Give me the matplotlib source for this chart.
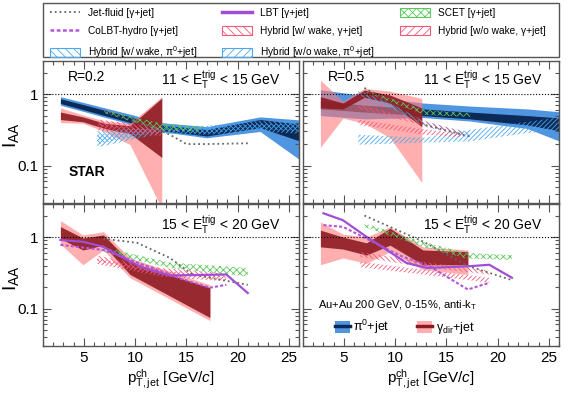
import matplotlib
matplotlib.use('Agg')
import matplotlib.pyplot as plt
from matplotlib.patches import Patch, Rectangle
from matplotlib.lines import Line2D
from matplotlib.ticker import MultipleLocator, FixedLocator, FixedFormatter, LogLocator, NullFormatter

plt.rcParams['font.family'] = ['Liberation Sans', 'DejaVu Sans']
plt.rcParams['mathtext.fontset'] = 'custom'
plt.rcParams['mathtext.rm'] = 'Liberation Sans'
plt.rcParams['mathtext.it'] = 'Liberation Sans:italic'
plt.rcParams['mathtext.bf'] = 'Liberation Sans:bold'
plt.rcParams['mathtext.default'] = 'regular'
plt.rcParams['hatch.linewidth'] = 0.6

# colours
BLUE_L = '#4f95e0'
BLUE_D = '#0b2a58'
RED_L = '#ff7a7a'
RED_D = '#8c1a22'
C_JETFLUID = '#666666'
C_LBT = '#a04fd4'
C_COLBT = '#b455dc'
C_SCET = '#5cc85c'
C_HYB_G = '#f0587a'
C_HYB_PI = '#4aa8f0'
HATCH_W = '\\\\\\\\\\\\\\'
HATCH_WO = '///////'
HATCH_X = 'xxxxx'

# ---------------- data ----------------
# top-left: R=0.2, 11 < ET < 15 GeV
pi_x_tl = [2.7, 9.8, 12.4, 17.0, 22.2, 26.1]
pi_sys_lo_tl = [0.70, 0.37, 0.30, 0.245, 0.30, 0.12]
pi_sys_hi_tl = [0.92, 0.51, 0.40, 0.35, 0.48, 0.435]
pi_stat_lo_tl = [0.74, 0.39, 0.31, 0.26, 0.34, 0.22]
pi_stat_hi_tl = [0.86, 0.47, 0.37, 0.32, 0.44, 0.38]
g_x_tl = [2.7, 4.9, 7.0, 9.5, 12.6]
g_sys_lo_tl = [0.40, 0.39, 0.30, 0.196, 0.025]
g_sys_hi_tl = [0.64, 0.51, 0.42, 0.39, 0.92]
g_stat_lo_tl = [0.44, 0.41, 0.33, 0.28, 0.13]
g_stat_hi_tl = [0.56, 0.48, 0.39, 0.36, 0.88]
jf_x_tl = [7.0, 10.2, 13.4, 15.0, 17.0, 21.0]
jf_y_tl = [0.58, 0.42, 0.27, 0.20, 0.20, 0.205]
scet_x_tl = [7.0, 12.5, 16.5]
scet_lo_tl = [0.54, 0.31, 0.30]
scet_hi_tl = [0.60, 0.39, 0.35]
hwpi_x_tl = [6.3, 12.5, 17.0, 22.0, 26.0]
hwpi_lo_tl = [0.20, 0.30, 0.28, 0.33, 0.30]
hwpi_hi_tl = [0.30, 0.36, 0.36, 0.42, 0.40]
hwopi_x_tl = [6.3, 12.5, 17.0, 22.0, 26.0]
hwopi_lo_tl = [0.18, 0.28, 0.27, 0.30, 0.28]
hwopi_hi_tl = [0.27, 0.34, 0.34, 0.38, 0.38]
hwg_x_tl = [6.4, 9.5, 12.5]
hwg_lo_tl = [0.36, 0.32, 0.29]
hwg_hi_tl = [0.44, 0.39, 0.34]
hwog_x_tl = [6.4, 9.5, 12.5]
hwog_lo_tl = [0.31, 0.28, 0.26]
hwog_hi_tl = [0.38, 0.34, 0.31]

# top-right: R=0.5, 11 < ET < 15 GeV
pi_x_tr = [2.7, 7.0, 12.7, 17.3, 22.9, 26.4]
pi_sys_lo_tr = [0.50, 0.45, 0.47, 0.42, 0.33, 0.21]
pi_sys_hi_tr = [1.15, 0.95, 0.75, 0.68, 0.62, 0.56]
pi_stat_lo_tr = [0.62, 0.56, 0.50, 0.45, 0.37, 0.30]
pi_stat_hi_tr = [0.80, 0.70, 0.62, 0.56, 0.50, 0.46]
g_x_tr = [2.7, 4.9, 7.0, 9.5, 12.6]
g_sys_lo_tr = [0.18, 0.46, 0.39, 0.245, 0.058]
g_sys_hi_tr = [1.56, 0.80, 1.20, 1.10, 0.87]
g_stat_lo_tr = [0.64, 0.62, 0.90, 0.75, 0.35]
g_stat_hi_tr = [0.92, 0.75, 1.14, 0.97, 0.64]
jf_x_tr = [7.0, 12.9, 17.3]
jf_y_tr = [1.22, 0.37, 0.255]
scet_x_tr = [7.2, 12.9, 17.3]
scet_lo_tr = [1.05, 0.51, 0.48]
scet_hi_tr = [1.13, 0.60, 0.54]
hwpi_x_tr = [6.4, 10.2, 12.9, 17.3]
hwpi_lo_tr = [0.97, 0.57, 0.35, 0.245]
hwpi_hi_tr = [1.13, 0.67, 0.41, 0.29]
hwopi_x_tr = [6.4, 12.9, 17.3, 22.9, 26.4]
hwopi_lo_tr = [0.196, 0.21, 0.218, 0.285, 0.316]
hwopi_hi_tr = [0.27, 0.245, 0.316, 0.41, 0.48]
hwg_x_tr = [6.4, 10.2, 12.9, 16.5]
hwg_lo_tr = [0.62, 0.45, 0.36, 0.27]
hwg_hi_tr = [0.72, 0.52, 0.42, 0.30]
hwog_x_tr = [6.4, 12.9, 16.5]
hwog_lo_tr = [0.37, 0.27, 0.25]
hwog_hi_tr = [0.44, 0.32, 0.28]

# bottom-left: R=0.2, 15 < ET < 20 GeV
g_x_bl = [2.7, 4.9, 6.9, 9.5, 17.3]
g_sys_lo_bl = [0.80, 0.41, 0.66, 0.27, 0.068]
g_sys_hi_bl = [1.70, 1.07, 1.19, 0.51, 0.215]
g_stat_lo_bl = [0.95, 0.66, 0.77, 0.30, 0.075]
g_stat_hi_bl = [1.40, 0.97, 1.07, 0.45, 0.196]
lbt_x_bl = [2.7, 4.9, 6.9, 9.2, 10.8, 13.4, 18.9, 21.0]
lbt_y_bl = [0.91, 0.86, 0.73, 0.48, 0.37, 0.29, 0.30, 0.165]
colbt_x_bl = [2.7, 6.9, 9.2, 14.5, 17.3, 18.9]
colbt_y_bl = [0.78, 0.66, 0.50, 0.26, 0.196, 0.215]
jf_x_bl = [6.9, 10.2, 13.4, 15.6, 21.0]
jf_y_bl = [0.95, 0.83, 0.51, 0.30, 0.215]
scet_x_bl = [6.9, 10.2, 13.4, 21.0]
scet_lo_bl = [0.62, 0.47, 0.37, 0.28]
scet_hi_bl = [0.72, 0.56, 0.44, 0.37]
hwg_x_bl = [6.3, 12.6, 18.9]
hwg_lo_bl = [0.46, 0.30, 0.27]
hwg_hi_bl = [0.55, 0.37, 0.31]
hwog_x_bl = [6.3, 12.6, 18.9]
hwog_lo_bl = [0.42, 0.28, 0.24]
hwog_hi_bl = [0.50, 0.34, 0.28]

# bottom-right: R=0.5, 15 < ET < 20 GeV
g_x_br = [2.7, 4.9, 7.2, 9.5, 12.7, 17.1]
g_sys_lo_br = [0.41, 0.51, 0.43, 0.625, 0.35, 0.30]
g_sys_hi_br = [1.63, 1.10, 1.00, 1.39, 0.73, 0.66]
g_stat_lo_br = [0.73, 0.68, 0.56, 0.77, 0.41, 0.41]
g_stat_hi_br = [1.25, 1.00, 0.83, 1.33, 0.66, 0.625]
lbt_x_br = [3.0, 4.9, 7.2, 11.1, 13.1, 17.1, 19.2, 21.4]
lbt_y_br = [2.15, 1.72, 1.01, 0.435, 0.37, 0.39, 0.41, 0.27]
colbt_x_br = [3.0, 4.9, 7.2, 10.5, 13.5, 17.1, 19.2]
colbt_y_br = [1.47, 1.39, 0.95, 0.55, 0.38, 0.185, 0.23]
jf_x_br = [7.0, 12.7, 17.0, 21.4]
jf_y_br = [2.0, 0.87, 0.40, 0.25]
scet_x_br = [7.0, 12.7, 17.0, 21.4]
scet_lo_br = [1.38, 0.73, 0.50, 0.48]
scet_hi_br = [1.56, 0.86, 0.60, 0.56]
hwg_x_br = [6.6, 12.7, 19.2]
hwg_lo_br = [0.53, 0.38, 0.30]
hwg_hi_br = [0.62, 0.45, 0.34]
hwog_x_br = [6.6, 12.7, 19.2]
hwog_lo_br = [0.38, 0.30, 0.23]
hwog_hi_br = [0.45, 0.35, 0.27]

W, H = 581, 393
fig = plt.figure(figsize=(W / 100, H / 100), dpi=100)


def box(x0, y0, x1, y1):
    return [x0 / W, 1 - y1 / H, (x1 - x0) / W, (y1 - y0) / H]


ax_tl = fig.add_axes(box(43, 61, 299, 203))
ax_tr = fig.add_axes(box(303, 61, 559, 203))
ax_bl = fig.add_axes(box(43, 204, 299, 346))
ax_br = fig.add_axes(box(303, 204, 559, 346))


def hatch_band(ax, x, lo, hi, color, hatch):
    ax.fill_between(x, lo, hi, facecolor='none', edgecolor=color, hatch=hatch, linewidth=0)


def data_band(ax, x, slo, shi, tlo, thi, light, dark, alpha=1.0):
    ax.fill_between(x, slo, shi, color=light, lw=0, alpha=alpha)
    ax.fill_between(x, tlo, thi, color=dark, lw=0, alpha=min(1.0, alpha + 0.3))


# data bands
data_band(ax_tl, pi_x_tl, pi_sys_lo_tl, pi_sys_hi_tl, pi_stat_lo_tl, pi_stat_hi_tl, BLUE_L, BLUE_D)
data_band(ax_tl, g_x_tl, g_sys_lo_tl, g_sys_hi_tl, g_stat_lo_tl, g_stat_hi_tl, RED_L, RED_D, 0.6)
data_band(ax_tr, pi_x_tr, pi_sys_lo_tr, pi_sys_hi_tr, pi_stat_lo_tr, pi_stat_hi_tr, BLUE_L, BLUE_D)
data_band(ax_tr, g_x_tr, g_sys_lo_tr, g_sys_hi_tr, g_stat_lo_tr, g_stat_hi_tr, RED_L, RED_D, 0.6)
data_band(ax_bl, g_x_bl, g_sys_lo_bl, g_sys_hi_bl, g_stat_lo_bl, g_stat_hi_bl, RED_L, RED_D, 0.6)
data_band(ax_br, g_x_br, g_sys_lo_br, g_sys_hi_br, g_stat_lo_br, g_stat_hi_br, RED_L, RED_D, 0.6)

# model curves
hatch_band(ax_tl, hwpi_x_tl, hwpi_lo_tl, hwpi_hi_tl, C_HYB_PI, HATCH_W)
hatch_band(ax_tl, hwopi_x_tl, hwopi_lo_tl, hwopi_hi_tl, C_HYB_PI, HATCH_WO)
hatch_band(ax_tl, hwg_x_tl, hwg_lo_tl, hwg_hi_tl, C_HYB_G, HATCH_W)
hatch_band(ax_tl, hwog_x_tl, hwog_lo_tl, hwog_hi_tl, C_HYB_G, HATCH_WO)
hatch_band(ax_tl, scet_x_tl, scet_lo_tl, scet_hi_tl, C_SCET, HATCH_X)
ax_tl.plot(jf_x_tl, jf_y_tl, color=C_JETFLUID, ls=':', lw=1.3)

hatch_band(ax_tr, hwpi_x_tr, hwpi_lo_tr, hwpi_hi_tr, C_HYB_PI, HATCH_W)
hatch_band(ax_tr, hwopi_x_tr, hwopi_lo_tr, hwopi_hi_tr, C_HYB_PI, HATCH_WO)
hatch_band(ax_tr, hwg_x_tr, hwg_lo_tr, hwg_hi_tr, C_HYB_G, HATCH_W)
hatch_band(ax_tr, hwog_x_tr, hwog_lo_tr, hwog_hi_tr, C_HYB_G, HATCH_WO)
hatch_band(ax_tr, scet_x_tr, scet_lo_tr, scet_hi_tr, C_SCET, HATCH_X)
ax_tr.plot(jf_x_tr, jf_y_tr, color=C_JETFLUID, ls=':', lw=1.3)

hatch_band(ax_bl, hwg_x_bl, hwg_lo_bl, hwg_hi_bl, C_HYB_G, HATCH_W)
hatch_band(ax_bl, hwog_x_bl, hwog_lo_bl, hwog_hi_bl, C_HYB_G, HATCH_WO)
hatch_band(ax_bl, scet_x_bl, scet_lo_bl, scet_hi_bl, C_SCET, HATCH_X)
ax_bl.plot(jf_x_bl, jf_y_bl, color=C_JETFLUID, ls=':', lw=1.3)
ax_bl.plot(colbt_x_bl, colbt_y_bl, color=C_COLBT, ls=(0, (1.5, 1)), lw=1.5)
ax_bl.plot(lbt_x_bl, lbt_y_bl, color=C_LBT, lw=1.6)

hatch_band(ax_br, hwg_x_br, hwg_lo_br, hwg_hi_br, C_HYB_G, HATCH_W)
hatch_band(ax_br, hwog_x_br, hwog_lo_br, hwog_hi_br, C_HYB_G, HATCH_WO)
hatch_band(ax_br, scet_x_br, scet_lo_br, scet_hi_br, C_SCET, HATCH_X)
ax_br.plot(jf_x_br, jf_y_br, color=C_JETFLUID, ls=':', lw=1.3)
ax_br.plot(colbt_x_br, colbt_y_br, color=C_COLBT, ls=(0, (1.5, 1)), lw=1.5)
ax_br.plot(lbt_x_br, lbt_y_br, color=C_LBT, lw=1.6)

# axes styling
for ax in (ax_tl, ax_tr, ax_bl, ax_br):
    ax.axhline(1, color='k', ls=':', lw=0.8)
    ax.set_xlim(1, 26)
    ax.set_yscale('log')
    ax.set_ylim(0.03, 2.9)
    ax.xaxis.set_major_locator(MultipleLocator(5))
    ax.xaxis.set_minor_locator(MultipleLocator(1))
    ax.yaxis.set_major_locator(FixedLocator([0.1, 1]))
    ax.yaxis.set_major_formatter(FixedFormatter(['0.1', '1']))
    ax.yaxis.set_minor_locator(LogLocator(base=10, subs=[2, 3, 4, 5, 6, 7, 8, 9]))
    ax.yaxis.set_minor_formatter(NullFormatter())
    ax.tick_params(which='both', direction='in', top=True, right=True, color='#555555', width=0.8, labelsize=11)
    ax.tick_params(which='major', length=6)
    ax.tick_params(which='minor', length=3)
    for s in ax.spines.values():
        s.set_color('#555555')
        s.set_linewidth(1.0)

for ax in (ax_tl, ax_tr):
    ax.tick_params(labelbottom=False)
for ax in (ax_tr, ax_br):
    ax.tick_params(labelleft=False)
for ax in (ax_tl, ax_bl):
    ax.text(-0.125, 0.48, 'I$_{AA}$', transform=ax.transAxes, fontsize=14, rotation=90,
            ha='center', va='center')
for ax in (ax_bl, ax_br):
    ax.set_xlabel('p$_{T,jet}^{ch}$ [GeV/$\\mathit{c}$]', fontsize=11, labelpad=2)

# annotations
ax_tl.text(0.098, 0.885, 'R=0.2', transform=ax_tl.transAxes, fontsize=10, va='center')
ax_tr.text(0.098, 0.885, 'R=0.5', transform=ax_tr.transAxes, fontsize=10, va='center')
et_low = '11 < E$_{T}^{trig}$ < 15 GeV'
et_high = '15 < E$_{T}^{trig}$ < 20 GeV'
ax_tl.text(0.46, 0.86, et_low, transform=ax_tl.transAxes, fontsize=10, va='center')
ax_tr.text(0.47, 0.86, et_low, transform=ax_tr.transAxes, fontsize=10, va='center')
ax_bl.text(0.46, 0.85, et_high, transform=ax_bl.transAxes, fontsize=10, va='center')
ax_br.text(0.47, 0.85, et_high, transform=ax_br.transAxes, fontsize=10, va='center')
ax_tl.text(0.098, 0.22, 'STAR', transform=ax_tl.transAxes, fontsize=10, fontweight='bold', va='center')
ax_br.text(0.059, 0.29, 'Au+Au 200 GeV, 0-15%, anti-k$_{T}$', transform=ax_br.transAxes, fontsize=8, va='center')

h_pi = (Patch(facecolor=BLUE_L, lw=0), Line2D([], [], color=BLUE_D, lw=2.5))
h_g = (Patch(facecolor=RED_L, alpha=0.6, lw=0), Line2D([], [], color=RED_D, lw=2.5))
ax_br.legend([h_pi, h_g], ['π$^{0}$+jet', 'γ$_{dir}$+jet'], loc='lower left', bbox_to_anchor=(0.08, -0.01),
             ncol=2, frameon=False, fontsize=9, handlelength=1.2, handleheight=1.1,
             handletextpad=0.3, columnspacing=2.2)

# top legend box
fig.add_artist(Rectangle((43 / W, 1 - 57 / H), 516 / W, 54 / H, transform=fig.transFigure,
                         fill=False, ec='#555555', lw=1.0))
h_jf = Line2D([], [], color=C_JETFLUID, ls=':', lw=1.3)
h_colbt = Line2D([], [], color=C_COLBT, ls=(0, (1.5, 1)), lw=1.8)
h_lbt = Line2D([], [], color=C_LBT, lw=2.5)
h_scet = Patch(facecolor='none', edgecolor=C_SCET, hatch='xxxx', lw=0.8)
h_hwg = Patch(facecolor='none', edgecolor=C_HYB_G, hatch='\\\\\\\\', lw=0.8)
h_hwog = Patch(facecolor='none', edgecolor=C_HYB_G, hatch='////', lw=0.8)
h_hwpi = Patch(facecolor='none', edgecolor=C_HYB_PI, hatch='\\\\\\\\', lw=0.8)
h_hwopi = Patch(facecolor='none', edgecolor=C_HYB_PI, hatch='////', lw=0.8)

cols = [
    (50, [h_jf, h_colbt, h_hwpi],
     ['Jet-fluid [γ+jet]', 'CoLBT-hydro [γ+jet]', 'Hybrid [w/ wake, π$^{0}$+jet]']),
    (222, [h_lbt, h_hwg, h_hwopi],
     ['LBT [γ+jet]', 'Hybrid [w/ wake, γ+jet]', 'Hybrid [w/o wake, π$^{0}$+jet]']),
    (400, [h_scet, h_hwog],
     ['SCET [γ+jet]', 'Hybrid [w/o wake, γ+jet]']),
]
for xpx, hs, labs in cols:
    fig.legend(hs, labs, loc='upper left', bbox_to_anchor=(xpx / W, 1 - 8 / H),
               bbox_transform=fig.transFigure, frameon=False, fontsize=7.3,
               handlelength=3.0, handleheight=1.0, labelspacing=0.8,
               handletextpad=0.7, borderpad=0, borderaxespad=0)

fig.savefig('out.png', dpi=100)
